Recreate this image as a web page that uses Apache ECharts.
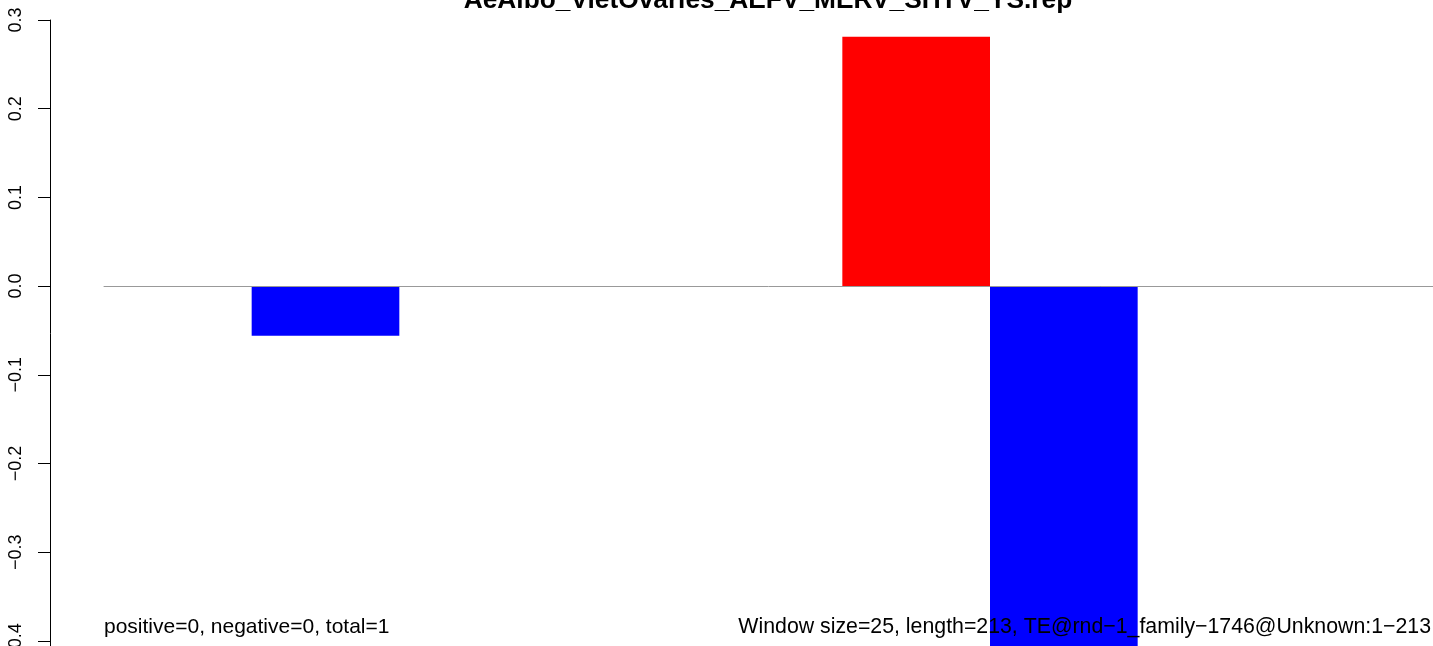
<!DOCTYPE html>
<html>
<head>
<meta charset="utf-8">
<script src="https://cdn.jsdelivr.net/npm/echarts@6/dist/echarts.min.js"></script>
<style>
html,body{margin:0;padding:0;background:#fff;}
#chart{width:1433px;height:646px;}
</style>
</head>
<body>
<div id="chart"></div>
<script>
// ---- data ----
var categories = ['1','2','3','4','5','6','7','8','9'];
var values = [0, -0.056, 0, 0, 0, 0.281, -0.45, 0, 0];
var yTicks = [-0.5, -0.4, -0.3, -0.2, -0.1, 0.0, 0.1, 0.2, 0.3];
var titleText = 'AeAlbo_VietOvaries_AEFV_MERV_SHTV_YS.rep';
var leftNote = 'positive=0, negative=0, total=1';
var rightNote = 'Window size=25, length=213, TE@rnd\u22121_family\u22121746@Unknown:1\u2212213';

var FONT = 'Liberation Sans, Arial, Helvetica, sans-serif';
var chart = echarts.init(document.getElementById('chart'));
var pxPerTenth = 88.7;
chart.setOption({
  animation: false,
  backgroundColor: '#ffffff',
  grid: { left: 104, right: 0, top: 20, height: pxPerTenth * (yTicks.length - 1), containLabel: false, outerBoundsMode: 'none' },
  xAxis: {
    type: 'category',
    data: categories,
    boundaryGap: true,
    axisLine: { show: true, onZero: true, lineStyle: { color: '#999999', width: 1 } },
    axisTick: { show: false },
    axisLabel: { show: false },
    splitLine: { show: false },
    z: 5
  },
  yAxis: {
    type: 'value',
    min: yTicks[0],
    max: yTicks[yTicks.length - 1],
    interval: 0.1,
    offset: 54,
    axisLine: { show: true, lineStyle: { color: '#000', width: 1 } },
    axisTick: { show: true, length: 12, lineStyle: { color: '#000', width: 1 } },
    splitLine: { show: false },
    axisLabel: {
      rotate: 90,
      fontSize: 18,
      fontFamily: FONT,
      color: '#000',
      margin: 25,
      formatter: function (v) { return v.toFixed(1).replace('-', '\u2212'); }
    }
  },
  series: [{
    type: 'bar',
    data: values,
    barWidth: '100%',
    itemStyle: {
      color: function (p) { return p.value >= 0 ? '#ff0000' : '#0000ff'; }
    }
  }],
  graphic: [
    { type: 'text', z: 100, style: { text: titleText, x: 768, y: 1, align: 'center', verticalAlign: 'middle', font: 'bold 26.3px ' + FONT, fill: '#000' } },
    { type: 'text', z: 100, style: { text: leftNote, x: 104, y: 627, align: 'left', verticalAlign: 'middle', font: '21px ' + FONT, fill: '#000' } },
    { type: 'text', z: 100, style: { text: rightNote, x: 1431, y: 627, align: 'right', verticalAlign: 'middle', font: '21.3px ' + FONT, fill: '#000' } }
  ]
});
</script>
</body>
</html>
